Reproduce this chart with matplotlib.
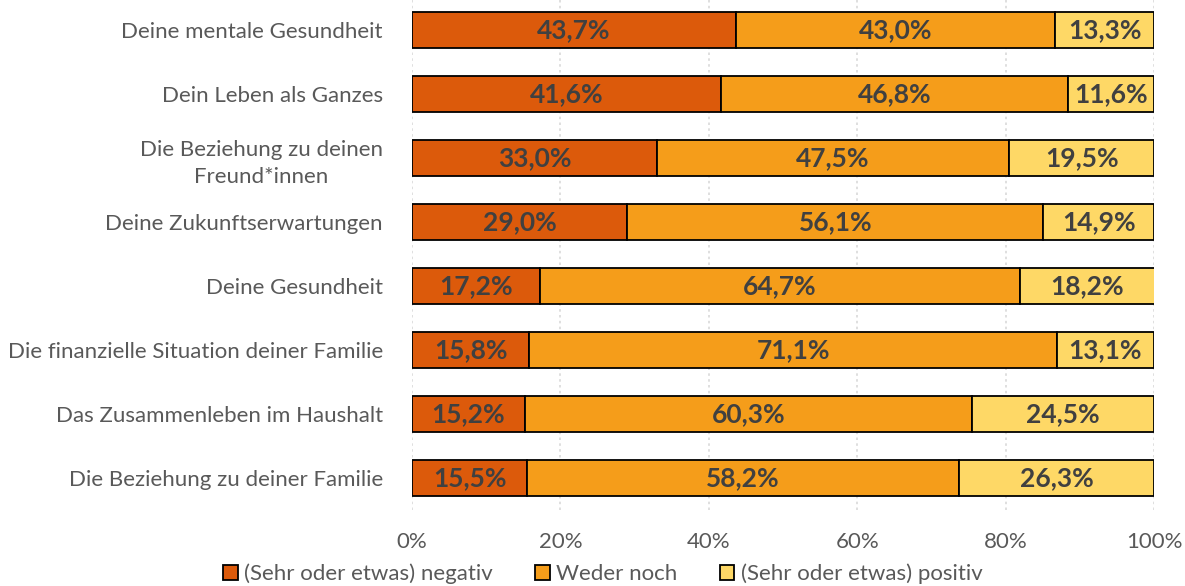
import numpy as np
from matplotlib import pyplot as plt
from matplotlib.patches import Patch

categories = [
    "Deine mentale Gesundheit",
    "Dein Leben als Ganzes",
    "Die Beziehung zu deinen\nFreund*innen",
    "Deine Zukunftserwartungen",
    "Deine Gesundheit",
    "Die finanzielle Situation deiner Familie",
    "Das Zusammenleben im Haushalt",
    "Die Beziehung zu deiner Familie",
]
negativ = [43.7, 41.6, 33.0, 29.0, 17.2, 15.8, 15.2, 15.5]
weder = [43.0, 46.8, 47.5, 56.1, 64.7, 71.1, 60.3, 58.2]
positiv = [13.3, 11.6, 19.5, 14.9, 18.2, 13.1, 24.5, 26.3]
series_names = ["(Sehr oder etwas) negativ", "Weder noch", "(Sehr oder etwas) positiv"]
colors = ["#DC5A0B", "#F59D1A", "#FED866"]
ticks = [0, 20, 40, 60, 80, 100]

text_col = "#595959"
label_col = "#404040"
plt.rcParams['font.family'] = ['Lato', 'DejaVu Sans']

fig = plt.figure(figsize=(11.85, 5.86), dpi=100)
ax = fig.add_axes([412/1185, 1 - 510/586, 742/1185, 512/586])

y = np.arange(len(categories))
left = np.zeros(len(categories))
for vals, col, name in zip([negativ, weder, positiv], colors, series_names):
    vals = np.array(vals)
    ax.barh(y, vals, left=left, height=0.56, color=col, edgecolor='black', linewidth=1.3, label=name, zorder=3)
    for yi, l, v in zip(y, left, vals):
        ax.text(l + v / 2, yi, f"{v:.1f}%".replace('.', ','), ha='center', va='center',
                fontsize=19, fontweight='bold', color=label_col, zorder=4)
    left += vals

ax.set_xlim(0, 100)
ax.set_ylim(len(categories) - 0.5, -0.5)
ax.set_xticks(ticks)
ax.set_xticklabels([f"{t}%" for t in ticks], fontsize=16, color=text_col)
ax.set_yticks(y)
ax.set_yticklabels(categories, fontsize=16, color=text_col, linespacing=1.45)
for lab in ax.get_yticklabels():
    lab.set_multialignment('center')
ax.tick_params(axis='both', length=0)
ax.tick_params(axis='x', pad=16)
ax.tick_params(axis='y', pad=21)
ax.grid(axis='x', color='#D9D9D9', linestyle=(0, (1.5, 2)), linewidth=1.2, zorder=0)
for s in ax.spines.values():
    s.set_visible(False)

handles = [Patch(facecolor=c, edgecolor='black', linewidth=1.3) for c in colors]
fig.legend(handles, series_names, loc='center', bbox_to_anchor=(603/1185, 1 - 574/586), ncol=3,
           frameon=False, fontsize=16, labelcolor=text_col, handlelength=0.65, handleheight=0.65,
           handletextpad=0.3, columnspacing=1.9)

fig.savefig("out.png", dpi=100)
